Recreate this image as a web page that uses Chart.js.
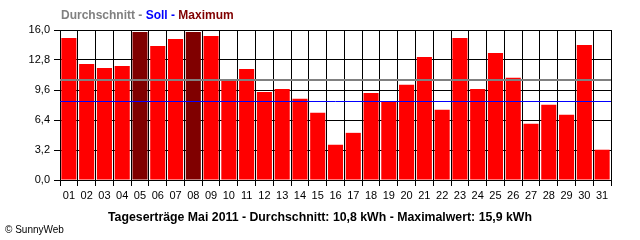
<!DOCTYPE html>
<html>
<head>
<meta charset="utf-8">
<script src="https://cdn.jsdelivr.net/npm/chart.js@4/dist/chart.umd.min.js"></script>
<style>
  html, body { margin: 0; padding: 0; background: #fff; }
</style>
</head>
<body>
<canvas id="chart" width="640" height="240"></canvas>
<script>
// daily yield, May 2011 (kWh)
const days = ['01','02','03','04','05','06','07','08','09','10','11','12','13','14','15','16',
              '17','18','19','20','21','22','23','24','25','26','27','28','29','30','31'];
const yields = [15.15, 12.38, 11.96, 12.17, 15.8, 14.3, 15.04, 15.8, 15.37, 10.65, 11.85, 9.4, 9.72, 8.66, 7.17, 3.76,
                5.03, 9.29, 8.44, 10.15, 13.13, 7.49, 15.15, 9.72, 13.56, 10.9, 6.0, 8.02, 6.95, 14.41, 3.23];
const yTickValues = [0, 3.2, 6.4, 9.6, 12.8, 16];
const averageValue = 10.67;
const targetValue = 8.41;

const legendParts = [
    ['Durchschnitt - ', '#808080'],
    ['Soll - ', '#0000ff'],
    ['Maximum', '#800000']
];
const bottomTitle = 'Tageserträge Mai 2011 - Durchschnitt: 10,8 kWh - Maximalwert: 15,9 kWh';
const copyright = '© SunnyWeb';

const maxValue = Math.max(...yields);
const barColors = yields.map(v => v === maxValue ? '#800000' : '#ff0000');

// reference lines + texts
const extrasPlugin = {
    id: 'extras',
    afterDatasetsDraw(chart) {
        const { ctx, chartArea, scales } = chart;
        const lines = [[averageValue, '#808080', 2], [targetValue, '#0000ff', 1]];
        ctx.save();
        lines.forEach(([v, color, w]) => {
            let y = Math.round(scales.y.getPixelForValue(v));
            if (w === 1) y += 0.5;
            ctx.strokeStyle = color;
            ctx.lineWidth = w;
            ctx.beginPath();
            ctx.moveTo(chartArea.left, y);
            ctx.lineTo(chartArea.right, y);
            ctx.stroke();
        });
        ctx.restore();
    },
    afterDraw(chart) {
        const ctx = chart.ctx;
        ctx.save();
        ctx.textBaseline = 'middle';
        ctx.font = 'bold 12px "Liberation Sans", Arial, sans-serif';
        let x = 61;
        legendParts.forEach(([text, color]) => {
            ctx.fillStyle = color;
            ctx.fillText(text, x, 16);
            x += ctx.measureText(text).width;
        });

        ctx.fillStyle = '#000';
        ctx.textAlign = 'center';
        ctx.font = 'bold 13px "Liberation Sans", Arial, sans-serif';
        ctx.fillText(bottomTitle, 320, 217, 424);

        ctx.textAlign = 'left';
        ctx.font = '10px "Liberation Sans", Arial, sans-serif';
        ctx.fillText(copyright, 5, 230);
        ctx.restore();
    }
};

new Chart(document.getElementById('chart'), {
    type: 'bar',
    data: {
        labels: days,
        datasets: [{
            data: yields,
            backgroundColor: barColors,
            borderWidth: 0,
            barPercentage: 0.85,
            categoryPercentage: 1.0
        }]
    },
    options: {
        responsive: false,
        animation: false,
        devicePixelRatio: 1,
        layout: { padding: { top: 30, right: 29, left: 0, bottom: 0 } },
        plugins: {
            legend: { display: false },
            tooltip: { enabled: false }
        },
        scales: {
            x: {
                offset: true,
                grid: { offset: true, color: '#000', tickLength: 6, tickColor: '#000' },
                border: { color: '#000' },
                ticks: {
                    color: '#000',
                    padding: 3,
                    maxRotation: 0,
                    autoSkip: false,
                    font: { family: '"Liberation Sans", Arial, sans-serif', size: 11 }
                },
                afterFit(scale) { scale.height = 60; }
            },
            y: {
                min: 0,
                max: 16,
                grid: { color: '#000', tickLength: 6, tickColor: '#000' },
                border: { color: '#000' },
                afterBuildTicks(scale) {
                    scale.ticks = yTickValues.map(v => ({ value: v }));
                },
                ticks: {
                    color: '#000',
                    padding: 4,
                    font: { family: '"Liberation Sans", Arial, sans-serif', size: 11 },
                    callback: v => v.toFixed(1).replace('.', ',')
                },
                afterFit(scale) { scale.width = 60; }
            }
        }
    },
    plugins: [extrasPlugin]
});
</script>
</body>
</html>
